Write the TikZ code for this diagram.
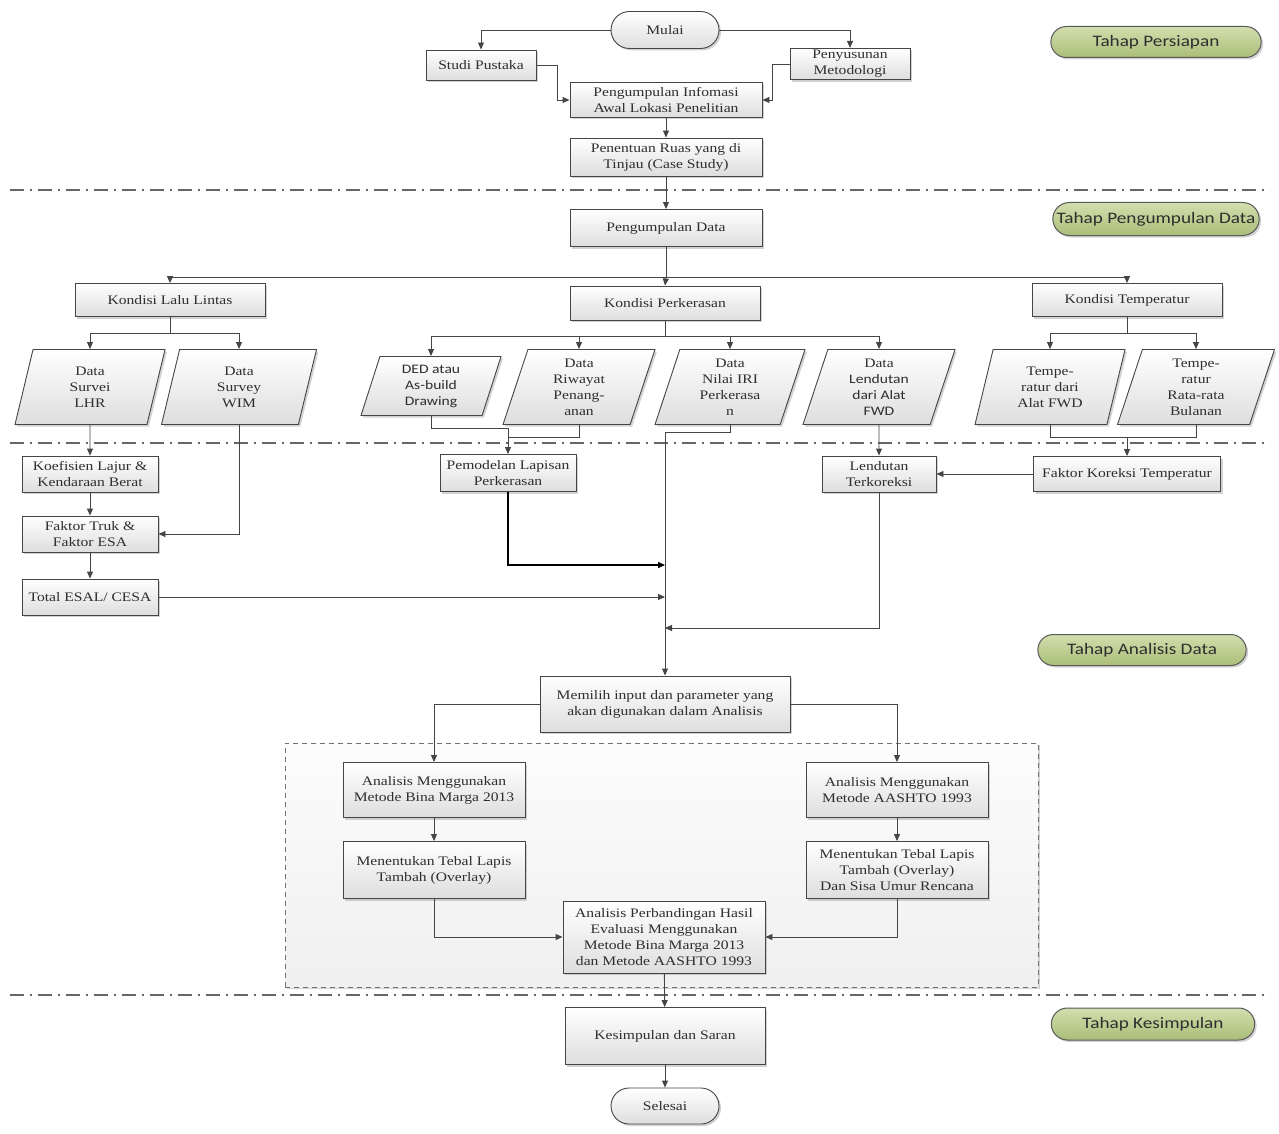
\documentclass[tikz,border=0pt]{standalone}
\usepackage{fontspec}
\setmainfont{Liberation Serif}[FakeStretch=1.2]
\newfontfamily\calfont{Carlito}[FakeStretch=1.2]
\usetikzlibrary{arrows.meta,shapes.geometric,shapes.misc,shadows,calc}
\definecolor{lncol}{HTML}{454545}
\definecolor{txtcol}{HTML}{2E2E2E}
\definecolor{gtop}{HTML}{D3DEAE}
\definecolor{gbot}{HTML}{A9BE78}
\tikzset{
  shad/.style={drop shadow={shadow xshift=2pt,shadow yshift=-2pt,opacity=0.35}},
  box/.style={draw=lncol, line width=0.9pt, top color=white, bottom color=black!13, shad,
    align=center, font=\fontsize{13}{16}\selectfont, text=txtcol, inner sep=2pt},
  term/.style={box, rounded rectangle},
  pg/.style={box, trapezium, trapezium left angle=67, trapezium right angle=113,
    trapezium stretches body, inner sep=1pt},
  tahap/.style={draw=black!65, line width=1pt, rounded rectangle, top color=gtop, bottom color=gbot,
    font=\calfont\fontsize{16}{19}\selectfont, text=txtcol, shad},
  wire/.style={draw=lncol, line width=0.9pt},
  arr/.style={wire, -{Triangle[length=7pt,width=6pt]}},
  arrb/.style={draw=black, line width=1.4pt, -{Triangle[length=7pt,width=6pt]}},
  sep/.style={draw=black!60, line width=2.4pt, dash pattern=on 14pt off 6pt on 2pt off 6pt},
}
\begin{document}
\begin{tikzpicture}[x=1pt,y=-1pt]
\fill[white] (0,0) rectangle (1279,1134);
\useasboundingbox (0,0) rectangle (1279,1134);

% separators
\draw[sep] (10,190) -- (1270,190);
\draw[sep] (10,443) -- (1270,443);
\draw[sep] (10,995) -- (1270,995);

% group box
\node[draw=black!55, dash pattern=on 5pt off 4pt, line width=1pt, top color=black!1, bottom color=black!6, shad, minimum width=753, minimum height=244, inner sep=0] (grp) at (661.5,865) {};

% phase labels
\node[tahap, minimum width=217, minimum height=31] (t1) at (1156,42) {Tahap Persiapan};
\node[tahap, minimum width=213, minimum height=33] (t2) at (1156,219) {Tahap Pengumpulan Data};
\node[tahap, minimum width=215, minimum height=31] (t3) at (1142,650) {Tahap Analisis Data};
\node[tahap, minimum width=210, minimum height=32] (t4) at (1153,1024) {Tahap Kesimpulan};

% top
\node[term, minimum width=112, minimum height=37] (mulai) at (665,30) {Mulai};
\node[box, minimum width=110, minimum height=30] (studi) at (481,65) {Studi Pustaka};
\node[box, minimum width=120, minimum height=30] (penyu) at (850,64) {Penyusunan\\Metodologi};
\node[box, minimum width=192, minimum height=35] (peng) at (666,100) {Pengumpulan Infomasi\\Awal Lokasi Penelitian};
\node[box, minimum width=192, minimum height=38] (penent) at (666,157) {Penentuan Ruas yang di\\Tinjau (Case Study)};
\node[box, minimum width=192, minimum height=37] (pdata) at (666,228) {Pengumpulan Data};

\node[box, minimum width=190, minimum height=33] (lalu) at (170,300) {Kondisi Lalu Lintas};
\node[box, minimum width=190, minimum height=34] (perk) at (665,303) {Kondisi Perkerasan};
\node[box, minimum width=190, minimum height=33] (temp) at (1127,300) {Kondisi Temperatur};

% parallelograms
\node[pg, minimum width=150, minimum height=75] (lhr) at (90,387) {Data\\Survei\\LHR};
\node[pg, minimum width=155, minimum height=75] (wim) at (239,387) {Data\\Survey\\WIM};
\node[pg, minimum width=140, minimum height=59] (ded) at (431,386) {\calfont DED atau\\\calfont As-build\\\calfont Drawing};
\node[pg, minimum width=152, minimum height=75] (riw) at (579,387) {Data\\Riwayat\\Penang-\\anan};
\node[pg, minimum width=150, minimum height=75] (iri) at (730,387) {Data\\Nilai IRI\\Perkerasa\\n};
\node[pg, minimum width=152, minimum height=75] (lend) at (879,387) {Data\\\calfont Lendutan\\\calfont dari Alat\\\calfont FWD};
\node[pg, minimum width=150, minimum height=75] (tfwd) at (1050,387) {Tempe-\\ratur dari\\Alat FWD};
\node[pg, minimum width=157, minimum height=75] (trata) at (1196,387) {Tempe-\\ratur\\Rata-rata\\Bulanan};

% analysis row
\node[box, minimum width=136, minimum height=36] (koef) at (90,474) {Koefisien Lajur \&\\Kendaraan Berat};
\node[box, minimum width=136, minimum height=36] (ftruk) at (90,534) {Faktor Truk \&\\Faktor ESA};
\node[box, minimum width=136, minimum height=36] (total) at (90,597) {Total ESAL/ CESA};
\node[box, minimum width=136, minimum height=37] (pemod) at (508,473) {Pemodelan Lapisan\\Perkerasan};
\node[box, minimum width=114, minimum height=36] (lterk) at (879,474) {Lendutan\\Terkoreksi};
\node[box, minimum width=187, minimum height=35] (fkt) at (1127,474) {Faktor Koreksi Temperatur};

\node[box, minimum width=250, minimum height=56] (memilih) at (665,704) {Memilih input dan parameter yang\\akan digunakan dalam Analisis};
\node[box, minimum width=182, minimum height=55] (abm) at (434,790) {Analisis Menggunakan\\Metode Bina Marga 2013};
\node[box, minimum width=182, minimum height=55] (aas) at (897,790) {Analisis Menggunakan\\Metode AASHTO 1993};
\node[box, minimum width=182, minimum height=57] (mbm) at (434,870) {Menentukan Tebal Lapis\\Tambah (Overlay)};
\node[box, minimum width=182, minimum height=57] (mas) at (897,870) {Menentukan Tebal Lapis\\Tambah (Overlay)\\Dan Sisa Umur Rencana};
\node[box, minimum width=202, minimum height=72] (banding) at (664,937) {Analisis Perbandingan Hasil\\Evaluasi Menggunakan\\Metode Bina Marga 2013\\dan Metode AASHTO 1993};
\node[box, minimum width=200, minimum height=57] (kesim) at (665,1036) {Kesimpulan dan Saran};
\node[term, minimum width=112, minimum height=36] (selesai) at (665,1106) {Selesai};

% junction coordinates
\coordinate (j1) at (666,277);
\coordinate (j2) at (170,333);
\coordinate (j3) at (665,336);
\coordinate (j4) at (1127,333);
\coordinate (j5) at (508,428);
\coordinate (j6) at (508,437);
\coordinate (jm) at (665,432);
\coordinate (j7) at (1127,437);

% connectors top
\draw[arr] (mulai.west) -| (studi.north);
\draw[arr] (mulai.east) -| (penyu.north);
\draw[arr] (studi.east) -- ++(21,0) |- (peng.west);
\draw[arr] (penyu.west) -- ++(-17,0) |- (peng.east);
\draw[arr] (peng) -- (penent);
\draw[arr] (penent) -- (pdata);
\draw[wire] (pdata.south) -- (j1);
\draw[arr] (j1) -| (lalu.north);
\draw[arr] (j1) -| (temp.north);
\draw[arr] (j1) -- (perk.north);

\draw[wire] (lalu.south) -- (j2);
\draw[arr] (j2) -| (lhr.north);
\draw[arr] (j2) -| (wim.north);
\draw[wire] (perk.south) -- (j3);
\draw[arr] (j3) -| (ded.north);
\draw[arr] (j3) -| (riw.north);
\draw[arr] (j3) -| (iri.north);
\draw[arr] (j3) -| (lend.north);
\draw[wire] (temp.south) -- (j4);
\draw[arr] (j4) -| (tfwd.north);
\draw[arr] (j4) -| (trata.north);

% connectors middle
\draw[arr] (lhr.south) -- (koef.north);
\draw[arr] (koef) -- (ftruk);
\draw[arr] (ftruk) -- (total);
\draw[arr] (wim.south) |- (ftruk.east);
\draw[wire] (ded.south) |- (j5);
\draw[wire] (riw.south) |- (j6) -- (j5);
\draw[arr] (j5) -- (pemod.north);
\draw[wire] (iri.south) |- (jm);
\draw[arr] (jm) -- (memilih.north);
\draw[arr] (lend.south) -- (lterk.north);
\draw[wire] (tfwd.south) |- (j7);
\draw[wire] (trata.south) |- (j7);
\draw[arr] (j7) -- (fkt.north);
\draw[arr] (fkt) -- (lterk);
\draw[arr] (lterk.south) |- (665,628);
\draw[arrb] (pemod.south) |- (665,565);
\draw[arr] (total.east) -- (total.east -| jm);

% connectors bottom
\draw[arr] (memilih.west) -| (abm.north);
\draw[arr] (memilih.east) -| (aas.north);
\draw[arr] (abm) -- (mbm);
\draw[arr] (aas) -- (mas);
\draw[arr] (mbm.south) |- (banding.west);
\draw[arr] (mas.south) |- (banding.east);
\draw[arr] (banding) -- (kesim);
\draw[arr] (kesim) -- (selesai);
\end{tikzpicture}
\end{document}
